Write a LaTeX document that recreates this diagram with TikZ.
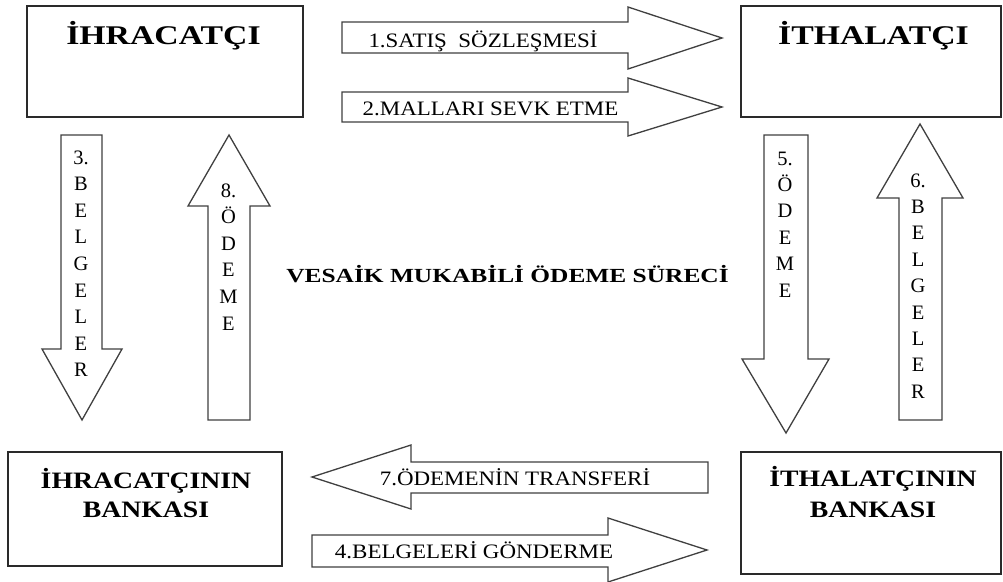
\documentclass[tikz,border=0pt]{standalone}
\usepackage{fontspec}
\setmainfont{Liberation Serif}
\usepackage{graphicx}
\definecolor{boxline}{HTML}{2A2A2A}
\definecolor{arrline}{HTML}{404040}
\tikzset{
  box/.style={draw=boxline, line width=1.6pt, fill=white, inner sep=0pt},
  blockarrow/.style={draw=arrline, line width=1.3pt, fill=white, line join=miter},
  boxlabel/.style={anchor=base, inner sep=0pt, font=\fontsize{27}{30}\selectfont\bfseries},
  banklabel/.style={anchor=base, inner sep=0pt, font=\fontsize{23.5}{28}\selectfont\bfseries},
  arrlabel/.style={anchor=base, inner sep=0pt, font=\fontsize{20.5}{24}\selectfont},
  vlet/.style={anchor=base, inner sep=0pt, font=\fontsize{20.5}{24}\selectfont},
  titlelabel/.style={anchor=base, inner sep=0pt, font=\fontsize{20}{24}\selectfont\bfseries}
}
\begin{document}
\begin{tikzpicture}[x=1pt,y=-1pt]
\useasboundingbox (0,0) rectangle (1003,581);
\fill[white] (0,0) rectangle (1003,581);

% boxes
\node[box, minimum width=276pt, minimum height=111pt] (ihr) at (165,61.5) {};
\node[box, minimum width=260pt, minimum height=111pt] (ith) at (871.2,61.5) {};
\node[box, minimum width=274pt, minimum height=114pt] (ihrb) at (145,509) {};
\node[box, minimum width=260pt, minimum height=122pt] (ithb) at (871.2,513) {};

% box labels
\node[boxlabel] (tihr) at (163.5,44) {\scalebox{1.25}[1]{İHRACATÇI}};
\node[boxlabel] (tith) at (873.5,44) {\scalebox{1.25}[1]{İTHALATÇI}};
\node[banklabel] (tihrb1) at (146,488) {\scalebox{1.18}[1]{İHRACATÇININ}};
\node[banklabel] (tihrb2) at (146,517) {\scalebox{1.18}[1]{BANKASI}};
\node[banklabel] (tithb1) at (873,486) {\scalebox{1.18}[1]{İTHALATÇININ}};
\node[banklabel] (tithb2) at (873,517) {\scalebox{1.18}[1]{BANKASI}};

% horizontal block arrows
\draw[blockarrow] (342,22) -- (628,22) -- (628,7) -- (722,38) -- (628,69) -- (628,53) -- (342,53) -- cycle;
\draw[blockarrow] (342,92) -- (628,92) -- (628,78) -- (722,107) -- (628,136) -- (628,122) -- (342,122) -- cycle;
\draw[blockarrow] (708,462) -- (411,462) -- (411,445) -- (312,477) -- (411,509) -- (411,493) -- (708,493) -- cycle;
\draw[blockarrow] (312,535) -- (608,535) -- (608,518) -- (707,550) -- (608,582) -- (608,567) -- (312,567) -- cycle;

% vertical block arrows
\draw[blockarrow] (61,135) -- (102,135) -- (102,349) -- (122,349) -- (82,420) -- (42,349) -- (61,349) -- cycle;
\draw[blockarrow] (208,420) -- (250,420) -- (250,206) -- (270,206) -- (229,135) -- (188,206) -- (208,206) -- cycle;
\draw[blockarrow] (764,135) -- (808,135) -- (808,359) -- (829,359) -- (786,433) -- (742,359) -- (764,359) -- cycle;
\draw[blockarrow] (899,420) -- (942,420) -- (942,198) -- (963,198) -- (920,124) -- (877,198) -- (899,198) -- cycle;

% horizontal arrow labels
\node[arrlabel] (l1) at (483,47) {\scalebox{1.12}[1]{1.SATIŞ\ \ SÖZLEŞMESİ}};
\node[arrlabel] (l2) at (490.5,115) {\scalebox{1.12}[1]{2.MALLARI SEVK ETME}};
\node[arrlabel] (l7) at (515,485) {\scalebox{1.12}[1]{7.ÖDEMENİN TRANSFERİ}};
\node[arrlabel] (l4) at (474,558) {\scalebox{1.12}[1]{4.BELGELERİ GÖNDERME}};

% vertical arrow labels
\foreach \l [count=\i from 0] in {3.,B,E,L,G,E,L,E,R}
  \node[vlet] (v3-\i) at (81,164+26.6*\i) {\l};
\foreach \l [count=\i from 0] in {8.,Ö,D,E,M,E}
  \node[vlet] (v8-\i) at (228.5,197+26.6*\i) {\l};
\foreach \l [count=\i from 0] in {5.,Ö,D,E,M,E}
  \node[vlet] (v5-\i) at (785,165+26.4*\i) {\l};
\foreach \l [count=\i from 0] in {6.,B,E,L,G,E,L,E,R}
  \node[vlet] (v6-\i) at (918,187+26.4*\i) {\l};

% title
\node[titlelabel] (title) at (507.5,282) {\scalebox{1.27}[1]{VESAİK MUKABİLİ ÖDEME SÜRECİ}};
\end{tikzpicture}
\end{document}
